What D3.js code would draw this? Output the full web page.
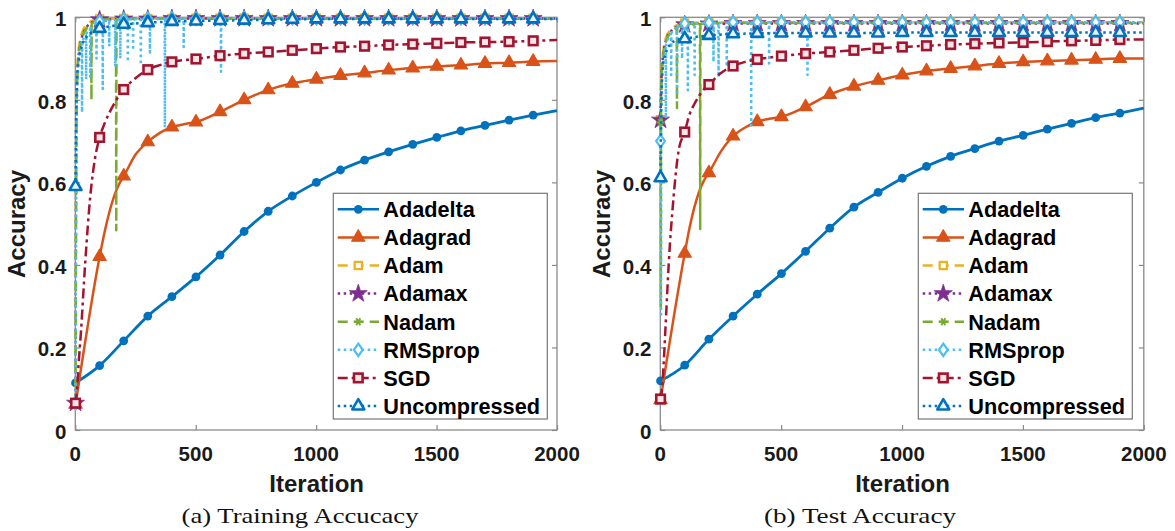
<!DOCTYPE html>
<html><head><meta charset="utf-8">
<script src="https://cdn.jsdelivr.net/npm/d3@7"></script>
<style>body{margin:0;background:#fff}</style>
</head><body><svg id="c" width="1175" height="531"></svg>
<script>
// ---------------- DATA ----------------
const seriesNames = ["Adadelta","Adagrad","Adam","Adamax","Nadam","RMSprop","SGD","Uncompressed"];
const xTickValues = [0,500,1000,1500,2000];
const yTickValues = [0,0.2,0.4,0.6,0.8,1];
const yTickLabels = ["0","0.2","0.4","0.6","0.8","1"];
const xAxisTitle = "Iteration";
const yAxisTitle = "Accuracy";
const captions = ["(a) Training Accucacy","(b) Test Accuracy"];

// Training accuracy: [iteration, accuracy]
const trainAdadelta = [[1,.114],[101,.156],[201,.216],[301,.276],[401,.323],[501,.371],[601,.424],[701,.481],[801,.530],[901,.567],[1001,.600],[1101,.630],[1201,.654],[1301,.674],[1401,.692],[1501,.709],[1601,.725],[1701,.738],[1801,.751],[1901,.763],[2000,.774]];
const trainAdagrad = [[1,.062],[101,.42],[121,.478],[141,.527],[161,.566],[181,.595],[201,.615],[251,.668],[301,.698],[351,.72],[401,.734],[451,.741],[501,.746],[601,.771],[701,.80],[801,.824],[901,.840],[1001,.850],[1101,.859],[1201,.865],[1301,.872],[1401,.877],[1501,.881],[1601,.884],[1701,.888],[1801,.890],[1901,.893],[2000,.894]];
const trainAdam = [[1,.065],[2,.40],[3,.62],[5,.80],[8,.875],[12,.915],[18,.94],[25,.958],[35,.973],[50,.985],[70,.992],[101,.996],[201,.997],[301,.997],[401,.997],[501,.998],[601,.998],[701,.998],[801,.998],[901,.998],[1001,.998],[1101,.998],[1201,.998],[1301,.998],[1401,.998],[1501,.998],[1601,.998],[1701,.998],[1801,.998],[1901,.998],[2000,.998]];
const trainAdamax = [[1,.065],[2,.36],[3,.58],[5,.77],[8,.855],[12,.90],[18,.928],[25,.948],[35,.965],[50,.979],[70,.988],[101,.994],[201,.996],[301,.996],[401,.997],[501,.997],[601,.997],[701,.997],[801,.997],[901,.997],[1001,.997],[1101,.997],[1201,.997],[1301,.997],[1401,.997],[1501,.997],[1601,.997],[1701,.997],[1801,.997],[1901,.997],[2000,.997]];
const trainNadam = [[1,.065],[2,.38],[4,.72],[7,.835],[12,.895],[18,.925],[25,.945],[35,.962],[50,.976],[66,.984],[67,.80],[68,.985],[85,.99],[101,.994],[169,.996],[170,.484],[171,.993],[201,.996],[301,.997],[401,.997],[501,.997],[601,.997],[701,.997],[801,.997],[901,.997],[1001,.997],[1101,.997],[1201,.997],[1301,.997],[1401,.997],[1501,.997],[1601,.997],[1701,.997],[1801,.997],[1901,.997],[2000,.997]];
const trainRMSprop = [[1,.065],[2,.30],[3,.55],[5,.74],[8,.83],[12,.88],[18,.912],[25,.935],[27,.94],[28,.77],[29,.942],[40,.955],[44,.958],[45,.85],[46,.96],[50,.966],[61,.972],[62,.856],[63,.973],[80,.982],[87,.984],[88,.90],[89,.985],[101,.99],[113,.991],[114,.826],[115,.991],[140,.992],[141,.93],[142,.992],[165,.993],[166,.88],[167,.993],[186,.994],[187,.90],[188,.994],[201,.995],[217,.995],[218,.892],[219,.995],[239,.995],[240,.92],[241,.995],[271,.996],[272,.885],[273,.996],[301,.996],[309,.996],[310,.915],[311,.996],[371,.996],[372,.733],[373,.996],[401,.997],[449,.997],[450,.928],[451,.997],[501,.997],[601,.997],[604,.997],[605,.868],[606,.997],[701,.998],[801,.998],[901,.998],[1001,.998],[1101,.998],[1201,.998],[1301,.998],[1401,.998],[1501,.998],[1601,.998],[1701,.998],[1801,.998],[1901,.998],[2000,.998]];
const trainSGD = [[1,.065],[7,.097],[14,.162],[24,.242],[41,.404],[62,.565],[83,.662],[101,.709],[121,.742],[141,.768],[161,.79],[181,.81],[201,.825],[251,.853],[301,.873],[351,.884],[401,.892],[501,.899],[601,.907],[701,.912],[801,.916],[901,.920],[1001,.924],[1101,.928],[1201,.930],[1301,.933],[1401,.935],[1501,.937],[1601,.939],[1701,.940],[1801,.941],[1901,.943],[2000,.945]];
const trainUncompressed = [[1,.59],[2,.68],[3,.74],[5,.81],[8,.86],[12,.89],[18,.912],[25,.928],[35,.943],[50,.955],[70,.965],[101,.973],[151,.979],[201,.983],[301,.987],[401,.99],[501,.991],[601,.992],[701,.993],[801,.994],[901,.995],[1001,.996],[1101,.996],[1201,.996],[1301,.996],[1401,.996],[1501,.996],[1601,.996],[1701,.996],[1801,.996],[1901,.996],[2000,.996]];

// Test accuracy: [iteration, accuracy]
const testAdadelta = [[1,.119],[101,.157],[201,.220],[301,.276],[401,.329],[501,.379],[601,.433],[701,.489],[801,.540],[901,.576],[1001,.610],[1101,.639],[1201,.663],[1301,.682],[1401,.700],[1501,.714],[1601,.729],[1701,.743],[1801,.757],[1901,.768],[2000,.780]];
const testAdagrad = [[1,.073],[101,.428],[121,.49],[141,.54],[161,.578],[181,.605],[201,.623],[251,.675],[301,.712],[351,.733],[401,.747],[451,.754],[501,.759],[601,.783],[701,.813],[801,.833],[901,.847],[1001,.860],[1101,.870],[1201,.876],[1301,.882],[1401,.888],[1501,.892],[1601,.894],[1701,.896],[1801,.898],[1901,.900],[2000,.900]];
const testAdam = [[1,.752],[2,.80],[4,.85],[7,.89],[12,.92],[20,.945],[30,.96],[45,.972],[65,.98],[101,.986],[201,.987],[301,.988],[401,.988],[501,.988],[601,.988],[701,.988],[801,.988],[901,.988],[1001,.988],[1101,.988],[1201,.988],[1301,.988],[1401,.988],[1501,.988],[1601,.988],[1701,.988],[1801,.988],[1901,.988],[2000,.988]];
const testAdamax = [[1,.751],[2,.79],[4,.84],[7,.88],[12,.912],[20,.938],[30,.955],[45,.967],[65,.976],[101,.982],[201,.984],[301,.985],[401,.985],[501,.985],[601,.985],[701,.985],[801,.985],[901,.985],[1001,.985],[1101,.985],[1201,.985],[1301,.985],[1401,.985],[1501,.985],[1601,.985],[1701,.985],[1801,.985],[1901,.985],[2000,.985]];
const testNadam = [[1,.745],[2,.30],[3,.80],[5,.85],[8,.885],[12,.91],[20,.935],[30,.952],[45,.965],[65,.974],[68,.975],[69,.78],[70,.976],[101,.983],[164,.985],[165,.487],[166,.984],[201,.986],[301,.986],[401,.986],[501,.986],[601,.986],[701,.986],[801,.986],[901,.986],[1001,.986],[1101,.986],[1201,.986],[1301,.986],[1401,.986],[1501,.986],[1601,.986],[1701,.986],[1801,.986],[1901,.986],[2000,.986]];
const testRMSprop = [[1,.70],[2,.76],[3,.28],[4,.80],[6,.84],[9,.875],[13,.90],[19,.925],[22,.93],[23,.755],[24,.935],[35,.952],[44,.96],[45,.86],[46,.962],[50,.965],[68,.975],[69,.811],[70,.976],[85,.981],[89,.982],[90,.90],[91,.982],[101,.985],[113,.986],[114,.823],[115,.986],[141,.986],[142,.86],[143,.986],[201,.987],[219,.987],[220,.892],[221,.987],[240,.987],[241,.855],[242,.987],[274,.987],[275,.88],[276,.987],[301,.988],[375,.988],[376,.738],[377,.988],[401,.988],[449,.988],[450,.888],[451,.988],[501,.988],[601,.988],[608,.988],[609,.86],[610,.988],[701,.988],[801,.988],[901,.988],[1001,.988],[1101,.988],[1201,.988],[1301,.988],[1401,.988],[1501,.988],[1601,.988],[1701,.988],[1801,.988],[1901,.988],[2000,.988]];
const testSGD = [[1,.075],[7,.10],[14,.161],[21,.242],[35,.404],[55,.565],[76,.678],[101,.722],[121,.765],[141,.79],[161,.81],[181,.826],[201,.837],[251,.865],[301,.882],[351,.892],[401,.898],[501,.906],[601,.912],[701,.916],[801,.920],[901,.925],[1001,.928],[1101,.931],[1201,.934],[1301,.936],[1401,.938],[1501,.939],[1601,.941],[1701,.943],[1801,.944],[1901,.946],[2000,.946]];
const testUncompressed = [[1,.611],[2,.70],[3,.76],[5,.82],[8,.865],[12,.89],[18,.905],[25,.918],[35,.93],[50,.94],[70,.946],[101,.948],[151,.953],[201,.956],[301,.96],[401,.961],[501,.962],[601,.962],[701,.962],[801,.962],[901,.962],[1001,.963],[1101,.963],[1201,.963],[1301,.963],[1401,.963],[1501,.963],[1601,.963],[1701,.963],[1801,.963],[1901,.963],[2000,.963]];

const trainSeries = [trainAdadelta,trainAdagrad,trainAdam,trainAdamax,trainNadam,trainRMSprop,trainSGD,trainUncompressed];
const testSeries = [testAdadelta,testAdagrad,testAdam,testAdamax,testNadam,testRMSprop,testSGD,testUncompressed];

// ---------------- STYLES ----------------
const styles = [
  {color:"#0072BD", dash:null,          marker:"circle",  smooth:true},
  {color:"#D95319", dash:null,          marker:"triFill", smooth:true},
  {color:"#EDB120", dash:"10,6",        marker:"square",  smooth:false},
  {color:"#7E2F8E", dash:"2.5,3.5",     marker:"star",    smooth:false},
  {color:"#77AC30", dash:"10,6",        marker:"aster",   smooth:false},
  {color:"#4DBEEE", dash:"2.5,3.5",     marker:"diamond", smooth:false},
  {color:"#A2142F", dash:"10,4,3,4",    marker:"squareBig", smooth:true},
  {color:"#0072BD", dash:"2.5,3.5",     marker:"triOpen", smooth:false}
];

const panels = [
  {left:75.3, right:557, top:17.3, bottom:430, data:trainSeries, caption:captions[0], capX:300, capW:237, legX:333.3},
  {left:660.3, right:1143.8, top:17.3, bottom:430, data:testSeries, caption:captions[1], capX:860, capW:192, legX:918.3}
];

const svg = d3.select("#c");
const axisColor = "#8a8a8a";
const textColor = "#1a1a1a";
const sansBold = "'Liberation Sans', Arial, Helvetica, sans-serif";

function drawMarker(g, type, x, y, color) {
  switch(type) {
    case "circle":
      g.append("circle").attr("cx",x).attr("cy",y).attr("r",4.4).attr("fill",color);
      break;
    case "triFill":
      g.append("path").attr("d",d3.symbol(d3.symbolTriangle,76)()).attr("transform",`translate(${x},${y})`)
        .attr("fill",color).attr("stroke",color).attr("stroke-width",1.2).attr("stroke-linejoin","round");
      break;
    case "triOpen":
      g.append("path").attr("d",d3.symbol(d3.symbolTriangle,62)()).attr("transform",`translate(${x},${y})`)
        .attr("fill","#e8f2fa").attr("stroke",color).attr("stroke-width",2.6).attr("stroke-linejoin","round");
      break;
    case "square":
      g.append("rect").attr("x",x-3.6).attr("y",y-3.6).attr("width",7.2).attr("height",7.2)
        .attr("fill","#fff").attr("stroke",color).attr("stroke-width",2.2);
      break;
    case "squareBig":
      g.append("rect").attr("x",x-4.3).attr("y",y-4.3).attr("width",8.6).attr("height",8.6)
        .attr("fill","#f4e6e8").attr("stroke",color).attr("stroke-width",2.6);
      break;
    case "star":
      g.append("path").attr("d",d3.symbol(d3.symbolStar,100)()).attr("transform",`translate(${x},${y})`)
        .attr("fill",color).attr("stroke",color).attr("stroke-width",0.8);
      break;
    case "diamond":
      g.append("path").attr("d","M0,-6.2L4.4,0L0,6.2L-4.4,0Z").attr("transform",`translate(${x},${y})`)
        .attr("fill","#fff").attr("stroke",color).attr("stroke-width",2.2);
      break;
    case "aster": {
      const r = 4;
      const p = `M${-r},0L${r},0M${-r*0.5},${-r*0.87}L${r*0.5},${r*0.87}M${-r*0.5},${r*0.87}L${r*0.5},${-r*0.87}`;
      g.append("path").attr("d",p).attr("transform",`translate(${x},${y})`)
        .attr("fill","none").attr("stroke",color).attr("stroke-width",2);
      break;
    }
  }
}

panels.forEach(p => {
  const x = d3.scaleLinear().domain([0,2000]).range([p.left,p.right]);
  const y = d3.scaleLinear().domain([0,1]).range([p.bottom,p.top]);
  const g = svg.append("g");

  // Box
  g.append("rect").attr("x",p.left).attr("y",p.top).attr("width",p.right-p.left).attr("height",p.bottom-p.top)
    .attr("fill","none").attr("stroke",axisColor).attr("stroke-width",1.3);

  // Inward ticks on all four sides via d3 axes (tick labels drawn separately)
  const tl = 5;
  g.append("g").attr("transform",`translate(0,${p.bottom})`)
    .call(d3.axisTop(x).tickValues(xTickValues).tickSize(tl).tickFormat(""))
    .call(s=>{s.select(".domain").remove(); s.selectAll("line").attr("stroke",axisColor).attr("stroke-width",1.2);});
  g.append("g").attr("transform",`translate(0,${p.top})`)
    .call(d3.axisBottom(x).tickValues(xTickValues).tickSize(tl).tickFormat(""))
    .call(s=>{s.select(".domain").remove(); s.selectAll("line").attr("stroke",axisColor).attr("stroke-width",1.2);});
  g.append("g").attr("transform",`translate(${p.left},0)`)
    .call(d3.axisRight(y).tickValues(yTickValues).tickSize(tl).tickFormat(""))
    .call(s=>{s.select(".domain").remove(); s.selectAll("line").attr("stroke",axisColor).attr("stroke-width",1.2);});
  g.append("g").attr("transform",`translate(${p.right},0)`)
    .call(d3.axisLeft(y).tickValues(yTickValues).tickSize(tl).tickFormat(""))
    .call(s=>{s.select(".domain").remove(); s.selectAll("line").attr("stroke",axisColor).attr("stroke-width",1.2);});

  // Tick labels
  g.selectAll(".xl").data(xTickValues).enter().append("text")
    .attr("x",d=>x(d)).attr("y",p.bottom+30.7).attr("text-anchor","middle")
    .attr("font-family",sansBold).attr("font-weight","bold").attr("font-size",20.5).attr("fill",textColor)
    .text(d=>String(d));
  g.selectAll(".yl").data(yTickValues).enter().append("text")
    .attr("x",p.left-9).attr("y",d=>y(d)+9).attr("text-anchor","end")
    .attr("font-family",sansBold).attr("font-weight","bold").attr("font-size",20.5).attr("fill",textColor)
    .text((d,i)=>yTickLabels[i]);

  // Axis titles
  g.append("text").attr("x",(p.left+p.right)/2+0.5).attr("y",491.7).attr("text-anchor","middle")
    .attr("font-family",sansBold).attr("font-weight","bold").attr("font-size",24).attr("fill",textColor)
    .text(xAxisTitle);
  g.append("text").attr("transform",`translate(${p.left-50.8},224) rotate(-90)`).attr("text-anchor","middle")
    .attr("font-family",sansBold).attr("font-weight","bold").attr("font-size",24).attr("fill",textColor)
    .text(yAxisTitle);

  // Caption
  g.append("text").attr("x",p.capX).attr("y",523.3).attr("text-anchor","middle")
    .attr("font-family","'Liberation Serif', 'Times New Roman', serif").attr("font-size",22).attr("fill","#111")
    .attr("textLength",p.capW).attr("lengthAdjust","spacingAndGlyphs")
    .text(p.caption);

  // Series
  p.data.forEach((data,i) => {
    const st = styles[i];
    const sg = g.append("g");
    const line = d3.line().x(d=>x(d[0])).y(d=>y(d[1])).curve(st.smooth ? d3.curveMonotoneX : d3.curveLinear);
    sg.append("path").attr("d",line(data)).attr("fill","none").attr("stroke",st.color)
      .attr("stroke-width", i===0 ? 2.8 : 2.5).attr("stroke-dasharray",st.dash).attr("stroke-linejoin","round");
    data.filter(d => (d[0]-1) % 100 === 0).forEach(d => drawMarker(sg, st.marker, x(d[0]), y(d[1]), st.color));
  });

  // Legend
  const lx = p.legX, ly = 193.3, lw = 214, lh = 225.7;
  const lg = g.append("g");
  lg.append("rect").attr("x",lx).attr("y",ly).attr("width",lw).attr("height",lh)
    .attr("fill","#fff").attr("stroke","#777").attr("stroke-width",1.2);
  seriesNames.forEach((name,i) => {
    const st = styles[i];
    const cy = 209.3 + i*28.1;
    lg.append("line").attr("x1",lx+4.4).attr("x2",lx+45.7).attr("y1",cy).attr("y2",cy)
      .attr("stroke",st.color).attr("stroke-width",2.5).attr("stroke-dasharray",st.dash);
    drawMarker(lg, st.marker, lx+25, cy, st.color);
    lg.append("text").attr("x",lx+50).attr("y",cy+7.8)
      .attr("font-family",sansBold).attr("font-weight","bold").attr("font-size",21.7).attr("fill","#000")
      .text(name);
  });
});
</script>
</body></html>
